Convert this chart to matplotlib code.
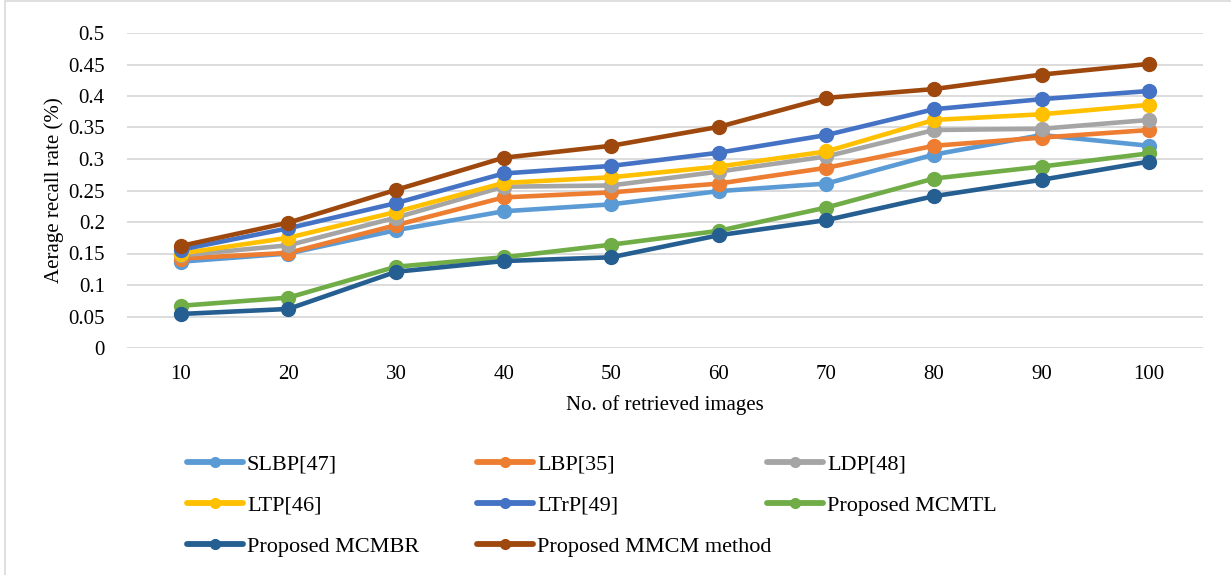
import matplotlib
matplotlib.use("Agg")
import matplotlib.pyplot as plt
from matplotlib.patches import Rectangle

plt.rcParams['font.family'] = ['Liberation Serif', 'DejaVu Serif']

# number of retrieved images
num_images = ['10', '20', '30', '40', '50', '60', '70', '80', '90', '100']

slbp  = [0.137, 0.150, 0.187, 0.217, 0.228, 0.249, 0.261, 0.307, 0.338, 0.321]
lbp   = [0.142, 0.151, 0.195, 0.239, 0.247, 0.261, 0.286, 0.321, 0.334, 0.346]
ldp   = [0.147, 0.163, 0.207, 0.256, 0.258, 0.280, 0.304, 0.346, 0.348, 0.362]
ltp   = [0.150, 0.175, 0.216, 0.262, 0.271, 0.288, 0.312, 0.362, 0.371, 0.386]
ltrp  = [0.156, 0.190, 0.230, 0.277, 0.289, 0.310, 0.338, 0.379, 0.395, 0.408]
mcmtl = [0.067, 0.080, 0.129, 0.144, 0.164, 0.186, 0.223, 0.269, 0.288, 0.309]
mcmbr = [0.054, 0.062, 0.121, 0.138, 0.144, 0.179, 0.203, 0.241, 0.267, 0.296]
mmcm  = [0.162, 0.199, 0.251, 0.302, 0.321, 0.351, 0.397, 0.411, 0.434, 0.451]

series = [
    ('SLBP[47]', slbp, '#5B9BD5'),
    ('LBP[35]', lbp, '#ED7D31'),
    ('LDP[48]', ldp, '#A5A5A5'),
    ('LTP[46]', ltp, '#FFC000'),
    ('LTrP[49]', ltrp, '#4472C4'),
    ('Proposed MCMTL', mcmtl, '#70AD47'),
    ('Proposed MCMBR', mcmbr, '#255E91'),
    ('Proposed MMCM method', mmcm, '#9E480E'),
]

fig = plt.figure(figsize=(12.31, 5.75), dpi=100)
ax = fig.add_axes([127 / 1231, 1 - 348 / 575, (1203 - 127) / 1231, (348 - 33) / 575])

x = range(len(num_images))
lines = []
for name, vals, col in series:
    ln, = ax.plot(x, vals, color=col, lw=3.3, marker='o', ms=10,
                  mfc=col, mec=col, label=name, solid_capstyle='round')
    lines.append(ln)

ax.set_xlim(-0.5, len(num_images) - 0.5)
ax.set_ylim(0, 0.5)
ax.set_xticks(list(x))
ax.set_xticklabels(num_images)
ax.set_yticks([i * 0.05 for i in range(11)])
ax.set_yticklabels(['0', '0.05', '0.1', '0.15', '0.2', '0.25', '0.3',
                    '0.35', '0.4', '0.45', '0.5'])
ax.tick_params(length=0, labelsize=15, pad=12)
ax.tick_params(axis='y', pad=16)
ax.grid(axis='y', color='#D9D9D9', lw=1.3)
ax.set_axisbelow(True)
for s in ax.spines.values():
    s.set_visible(False)

ax.set_xlabel('No. of retrieved images', fontsize=15, labelpad=8)
ax.set_ylabel('Aerage recall rate (%)', fontsize=15, labelpad=3)

# legend laid out in three fixed columns, row-major like the original
col_x = [187 / 1231, 477 / 1231, 767 / 1231]
for c in range(3):
    hs = lines[c::3]
    leg = fig.legend(handles=hs, labels=[h.get_label() for h in hs],
                     loc='upper left', bbox_to_anchor=(col_x[c], 1 - 454 / 575),
                     frameon=False, fontsize=16, handlelength=2.5,
                     handletextpad=0.2, labelspacing=0.93, markerscale=0.7,
                     borderaxespad=0, borderpad=0)
    for lh in leg.get_lines():
        lh.set_linewidth(4.2)

fig.patches.append(Rectangle((5 / 1231, -0.01), 1.0, 1 - 1 / 575 + 0.01,
                             transform=fig.transFigure, fill=False,
                             edgecolor='#D9D9D9', lw=1.2))

fig.savefig('out.png', dpi=100)
